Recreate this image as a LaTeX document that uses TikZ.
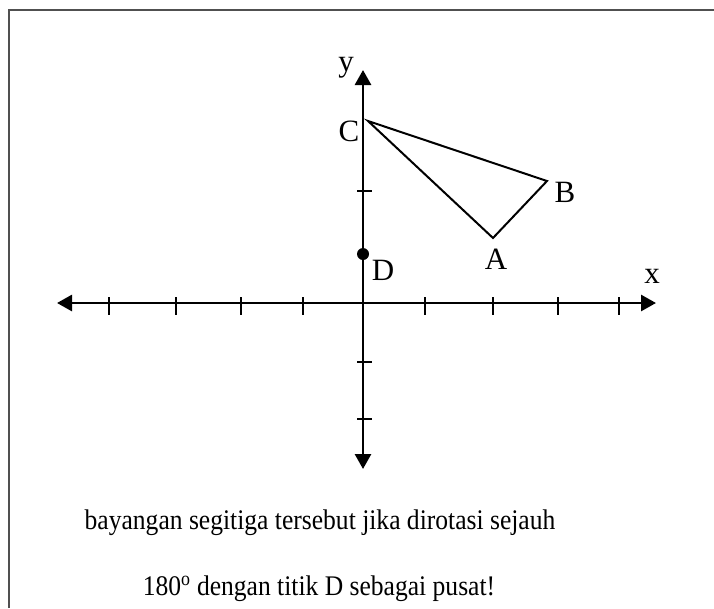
\documentclass[tikz,border=0pt]{standalone}
\usepackage{fontspec}
\setmainfont{Liberation Serif}
\usetikzlibrary{arrows.meta}

\begin{document}
\begin{tikzpicture}[x=1pt, y=-1pt]

	\definecolor{my_frame}{RGB}{80,80,80}

\tikzstyle{axis} = [draw, line width=2.8pt, {Triangle[length=15pt,width=16pt]}-{Triangle[length=15pt,width=16pt]}]
\tikzstyle{tick} = [draw, line width=2.8pt]
\tikzstyle{side} = [draw, line width=2pt, line join=miter]
\tikzstyle{lbl} = [font=\fontsize{31}{36}\selectfont, inner sep=0pt]
\tikzstyle{txt} = [font=\fontsize{28.4}{32}\selectfont, inner sep=0pt, anchor=base]

	\useasboundingbox (0,0) rectangle (714,608);
	\draw [my_frame, line width=2pt] (9,608) -- (9,10) -- (714,10);

	% axes
	\coordinate (xl) at (57,303);
	\coordinate (xr) at (656,303);
	\coordinate (yt) at (363,70);
	\coordinate (yb) at (363,469);
	\path [axis] (xl) -- (xr);
	\path [axis] (yb) -- (yt);

	\foreach \x in {109,176,241,303,425,493,558,619}
		\path [tick] (\x,297) -- (\x,315);
	\foreach \y in {191,362,419}
		\path [tick] (357,\y) -- (372,\y);

	% triangle
	\coordinate (A) at (493,238);
	\coordinate (B) at (547,181);
	\coordinate (C) at (368,121);
	\path [side] (A) -- (B) -- (C) -- cycle;

	\coordinate (D) at (363,254);
	\fill (D) circle (6);

	\node [lbl] (lab_x) at (652,276) {x};
	\node [lbl] (lab_y) at (346,68) {y};
	\node [lbl] (lab_a) at (496,259) {A};
	\node [lbl] (lab_b) at (565,192) {B};
	\node [lbl] (lab_c) at (349,131) {C};
	\node [lbl] (lab_d) at (383,270) {D};

	\node [txt] (line1) at (320,529) {\scalebox{0.9}[1]{bayangan segitiga tersebut jika dirotasi sejauh}};
	\node [txt] (line2) at (319,595) {\scalebox{0.9}[1]{180\textsuperscript{o} dengan titik D sebagai pusat!}};

\end{tikzpicture}
\end{document}
